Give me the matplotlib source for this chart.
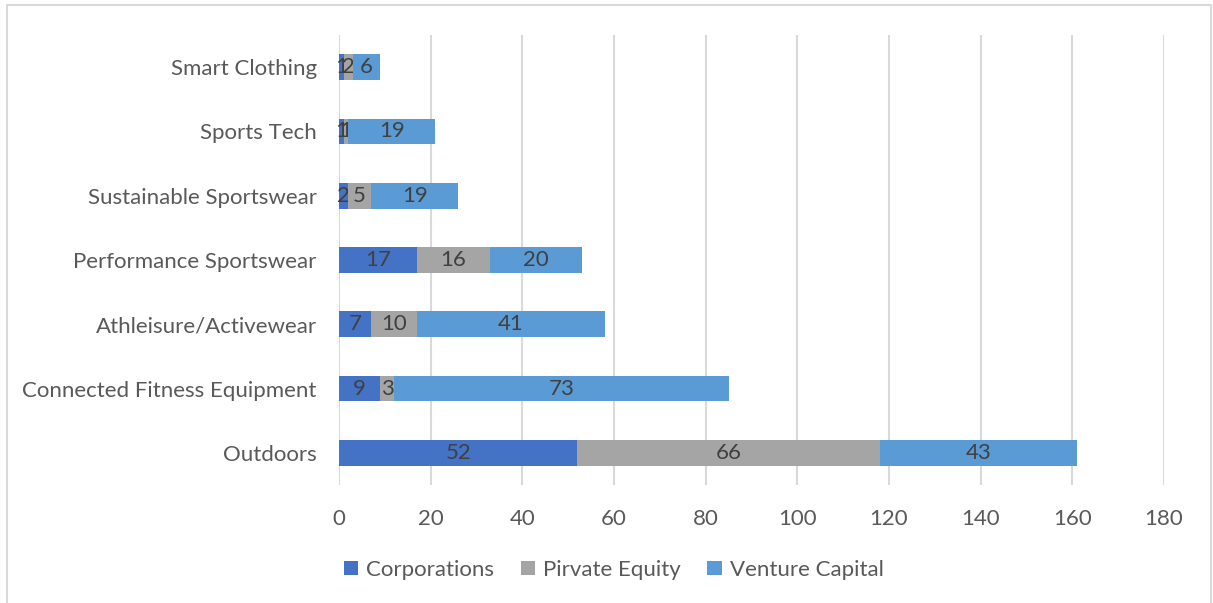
import matplotlib.pyplot as plt
from matplotlib.patches import Rectangle

categories = ["Outdoors", "Connected Fitness Equipment", "Athleisure/Activewear",
              "Performance Sportswear", "Sustainable Sportswear", "Sports Tech",
              "Smart Clothing"]
corporations = [52, 9, 7, 17, 2, 1, 1]
private_equity = [66, 3, 10, 16, 5, 1, 2]
venture_capital = [43, 73, 41, 20, 19, 19, 6]
x_ticks = [0, 20, 40, 60, 80, 100, 120, 140, 160, 180]

plt.rcParams['font.family'] = ['Lato', 'DejaVu Sans']

fig = plt.figure(figsize=(12.13, 6.03), dpi=100)
ax = fig.add_axes([0.2795, 0.1957, 0.6801, 0.7463])

series = [
    ("Corporations", corporations, "#4472C4"),
    ("Pirvate Equity", private_equity, "#A5A5A5"),
    ("Venture Capital", venture_capital, "#5B9BD5"),
]

y = range(len(categories))
left = [0] * len(categories)
for name, vals, col in series:
    bars = ax.barh(y, vals, left=left, height=0.4, color=col, label=name, zorder=3)
    ax.bar_label(bars, labels=[str(v) for v in vals], label_type="center",
                 color="#404040", fontsize=16)
    left = [a + b for a, b in zip(left, vals)]

ax.set_xlim(0, 180)
ax.set_ylim(-0.5, len(categories) - 0.5)
ax.set_xticks(x_ticks)
ax.set_yticks(list(y))
ax.set_yticklabels(categories)
ax.grid(axis="x", color="#D9D9D9", linewidth=1.5, zorder=0)
ax.set_axisbelow(True)
for s in ax.spines.values():
    s.set_visible(False)
ax.tick_params(axis="y", length=0, pad=16, labelsize=16, labelcolor="#595959")
ax.tick_params(axis="x", length=0, pad=17, labelsize=16, labelcolor="#595959")

fig.legend(loc="center", bbox_to_anchor=(0.506, 0.055), ncol=3, frameon=False,
           fontsize=16, labelcolor="#595959", handlelength=0.65, handleheight=0.65,
           columnspacing=1.2, handletextpad=0.35)

# light frame around the chart area
fig.patches.append(Rectangle((7 / 1213, -0.02), 1204 / 1213, 1.02 - 5 / 603,
                             transform=fig.transFigure, fill=False,
                             edgecolor="#D9D9D9", linewidth=1.5))

fig.savefig("out.png", dpi=100)
